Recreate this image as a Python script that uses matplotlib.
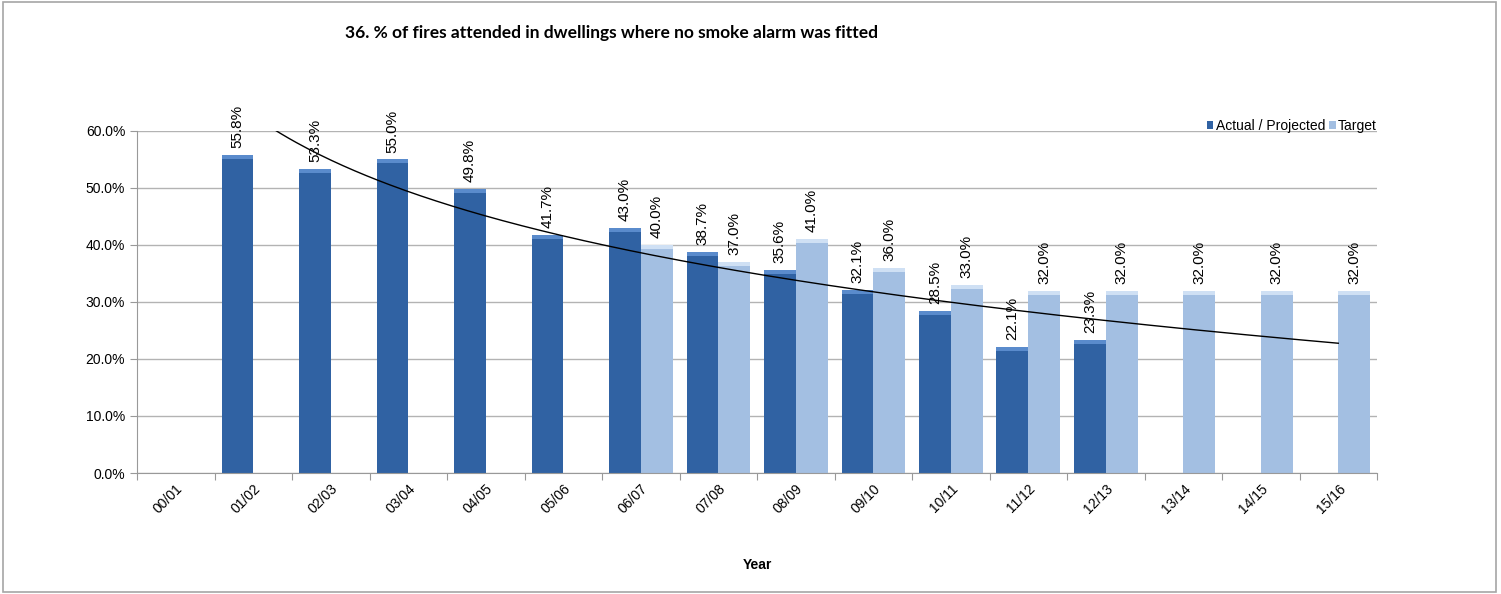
import matplotlib.pyplot as plt
import numpy as np
from matplotlib.patches import Rectangle

years = ['00/01', '01/02', '02/03', '03/04', '04/05', '05/06', '06/07', '07/08',
         '08/09', '09/10', '10/11', '11/12', '12/13', '13/14', '14/15', '15/16']
actual = [np.nan, 55.8, 53.3, 55.0, 49.8, 41.7, 43.0, 38.7, 35.6, 32.1, 28.5, 22.1, 23.3,
          np.nan, np.nan, np.nan]
target = [np.nan, np.nan, np.nan, np.nan, np.nan, np.nan, 40.0, 37.0, 41.0, 36.0, 33.0,
          32.0, 32.0, 32.0, 32.0, 32.0]

dark = '#3062a3'
dark_top = '#5a8bcc'
light = '#a3bfe2'
light_top = '#cfe0f4'

fig = plt.figure(figsize=(15.01, 5.94), dpi=100)
ax = fig.add_axes([0.0913, 0.2037, 0.8261, 0.5758])

x = np.arange(len(years))
w = 0.41
act = np.array(actual)
tgt = np.array(target)

ax.bar(x - w / 2, act, w, color=dark, label='Actual / Projected', zorder=2)
ax.bar(x + w / 2, tgt, w, color=light, label='Target', zorder=2)
# lighter top caps
cap = 0.7
ax.bar(x - w / 2, np.full(len(x), cap), w, bottom=act - cap, color=dark_top, zorder=2.5)
ax.bar(x + w / 2, np.full(len(x), cap), w, bottom=tgt - cap, color=light_top, zorder=2.5)

for xi, v in zip(x, act):
    if not np.isnan(v):
        ax.annotate(f'{v:.1f}%', (xi - w / 2, v), xytext=(0, 5), textcoords='offset points',
                    rotation=90, ha='center', va='bottom', fontsize=11,
                    family='Liberation Sans', zorder=4)
for xi, v in zip(x, tgt):
    if not np.isnan(v):
        ax.annotate(f'{v:.1f}%', (xi + w / 2, v), xytext=(0, 5), textcoords='offset points',
                    rotation=90, ha='center', va='bottom', fontsize=11,
                    family='Liberation Sans', zorder=4)

# logarithmic trendline of the actual series (Excel style, x = 1..n)
xe = x + 1
m = ~np.isnan(act)
b, a = np.polyfit(np.log(xe[m]), act[m], 1)
xt = np.linspace(1, 16, 300)
ax.plot(xt - 1, a + b * np.log(xt), color='black', lw=1, zorder=3)

ax.set_ylim(0, 60)
ax.set_xlim(-0.5, len(years) - 0.5)
ax.set_yticks(np.arange(0, 61, 10))
ax.set_yticklabels([f'{v:.1f}%' for v in np.arange(0, 61, 10)], family='Liberation Sans',
                   fontsize=10)
ax.yaxis.grid(True, color='#b3b3b3', lw=1, zorder=0)
ax.set_axisbelow(True)

ax.set_xticks(np.arange(-0.5, len(years), 1))
ax.set_xticklabels([])
ax.set_xticks(x, minor=True)
ax.set_xticklabels(years, minor=True, rotation=45, ha='right', rotation_mode='anchor',
                   family='Liberation Sans', fontsize=10)
ax.tick_params(axis='x', which='minor', length=0, pad=6)
ax.tick_params(axis='x', which='major', length=5, color='#999999')
ax.tick_params(axis='y', length=5, color='#999999')

for s in ['top', 'right']:
    ax.spines[s].set_visible(False)
for s in ['left', 'bottom']:
    ax.spines[s].set_color('#999999')

ax.set_xlabel('Year', family='Liberation Sans', fontweight='bold', fontsize=10, labelpad=30)

leg = ax.legend(loc='lower right', bbox_to_anchor=(1.0, 0.995), ncol=2, frameon=False,
                prop={'family': 'Liberation Sans', 'size': 10}, handlelength=0.5,
                handleheight=0.5, handletextpad=0.15, columnspacing=0.3,
                borderaxespad=0, borderpad=0)

fig.text(0.4074, 0.945, '36. % of fires attended in dwellings where no smoke alarm was fitted',
         ha='center', va='center', family='Lato', fontweight='bold', fontsize=12.5)

fig.patches.append(Rectangle((0.002, 0.003), 0.995, 0.994, transform=fig.transFigure,
                             fill=False, edgecolor='#a6a6a6', lw=1.2))

fig.savefig('out.png', dpi=100)
